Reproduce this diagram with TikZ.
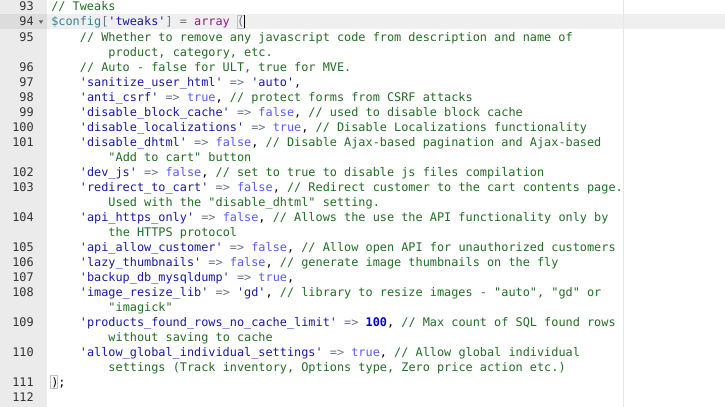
\documentclass[tikz,border=0pt]{standalone}
\usepackage{fontspec}
\setmonofont{DejaVu Sans Mono}
\definecolor{gutterbg}{HTML}{EBEBEB}
\definecolor{gutteract}{HTML}{DCDCDC}
\definecolor{lineact}{HTML}{EFEFEF}
\definecolor{margin}{HTML}{E6E6E6}
\definecolor{numgray}{HTML}{333333}
\definecolor{cmntc}{HTML}{236E24}
\definecolor{qstrc}{HTML}{1A1AA6}
\definecolor{kwdc}{HTML}{585CF6}
\definecolor{operc}{HTML}{687687}
\definecolor{varc}{HTML}{318495}
\definecolor{fnc}{HTML}{8E1F7E}
\definecolor{numc}{HTML}{0000CD}
\newcommand\cmnt[1]{\textcolor{cmntc}{#1}}
\newcommand\qstr[1]{\textcolor{qstrc}{#1}}
\newcommand\kwd[1]{\textcolor{kwdc}{#1}}
\newcommand\oper[1]{\textcolor{operc}{#1}}
\tikzset{
  codeline/.style={anchor=base west, inner sep=0pt, font=\ttfamily\fontsize{8.9}{11}\selectfont},
  lineno/.style={anchor=base east, inner sep=0pt, text=numgray, font=\ttfamily\fontsize{8.9}{11}\selectfont},
  brbox/.style={draw=black!25, line width=0.6pt}
}

\begin{document}
\begin{tikzpicture}[x=0.75pt, y=-0.75pt]
    \useasboundingbox (0,0) rectangle (725,407);
    % editor background
    \fill[white] (0,0) rectangle (725,407);
    \fill[gutterbg] (0,0) rectangle (47,407);
    \fill[lineact] (47,14) rectangle (725,29);
    \fill[gutteract] (0,14) rectangle (47,29);
    \draw[margin, line width=0.75pt] (623,0) -- (623,407);
    % line numbers
    \foreach \n/\r in {93/0, 94/1, 95/2, 96/4, 97/5, 98/6, 99/7, 100/8, 101/9, 102/11,
        103/12, 104/14, 105/16, 106/17, 107/18, 108/19, 109/21, 110/23, 111/25, 112/26}
        \node[lineno] (n\n) at (34,{11+15*\r}) {\n};
    \fill[black!60] (38.8,20.3) -- (43.2,20.3) -- (41,23.8) -- cycle;
    % code
    \node[codeline] (c93) at (51,11) {\cmnt{// Tweaks}};
    \node[codeline] (c94) at (51,26) {\textcolor{varc}{\$config}\oper{[}\qstr{'tweaks'}\oper{]} \oper{=} \textcolor{fnc}{array} \oper{(}};
    \node[codeline] (c95) at (79.6,41) {\cmnt{// Whether to remove any javascript code from description and name of}};
    \node[codeline] (c95w) at (108.2,56) {\cmnt{product, category, etc.}};
    \node[codeline] (c96) at (79.6,71) {\cmnt{// Auto - false for ULT, true for MVE.}};
    \node[codeline] (c97) at (79.6,86) {\qstr{'sanitize\_user\_html'} \oper{=>} \qstr{'auto'},};
    \node[codeline] (c98) at (79.6,101) {\qstr{'anti\_csrf'} \oper{=>} \kwd{true}, \cmnt{// protect forms from CSRF attacks}};
    \node[codeline] (c99) at (79.6,116) {\qstr{'disable\_block\_cache'} \oper{=>} \kwd{false}, \cmnt{// used to disable block cache}};
    \node[codeline] (c100) at (79.6,131) {\qstr{'disable\_localizations'} \oper{=>} \kwd{true}, \cmnt{// Disable Localizations functionality}};
    \node[codeline] (c101) at (79.6,146) {\qstr{'disable\_dhtml'} \oper{=>} \kwd{false}, \cmnt{// Disable Ajax-based pagination and Ajax-based}};
    \node[codeline] (c101w) at (108.2,161) {\cmnt{"Add to cart" button}};
    \node[codeline] (c102) at (79.6,176) {\qstr{'dev\_js'} \oper{=>} \kwd{false}, \cmnt{// set to true to disable js files compilation}};
    \node[codeline] (c103) at (79.6,191) {\qstr{'redirect\_to\_cart'} \oper{=>} \kwd{false}, \cmnt{// Redirect customer to the cart contents page.}};
    \node[codeline] (c103w) at (108.2,206) {\cmnt{Used with the "disable\_dhtml" setting.}};
    \node[codeline] (c104) at (79.6,221) {\qstr{'api\_https\_only'} \oper{=>} \kwd{false}, \cmnt{// Allows the use the API functionality only by}};
    \node[codeline] (c104w) at (108.2,236) {\cmnt{the HTTPS protocol}};
    \node[codeline] (c105) at (79.6,251) {\qstr{'api\_allow\_customer'} \oper{=>} \kwd{false}, \cmnt{// Allow open API for unauthorized customers}};
    \node[codeline] (c106) at (79.6,266) {\qstr{'lazy\_thumbnails'} \oper{=>} \kwd{false}, \cmnt{// generate image thumbnails on the fly}};
    \node[codeline] (c107) at (79.6,281) {\qstr{'backup\_db\_mysqldump'} \oper{=>} \kwd{true},};
    \node[codeline] (c108) at (79.6,296) {\qstr{'image\_resize\_lib'} \oper{=>} \qstr{'gd'}, \cmnt{// library to resize images - "auto", "gd" or}};
    \node[codeline] (c108w) at (108.2,311) {\cmnt{"imagick"}};
    \node[codeline] (c109) at (79.6,326) {\qstr{'products\_found\_rows\_no\_cache\_limit'} \oper{=>} \textcolor{numc}{\textbf{100}}, \cmnt{// Max count of SQL found rows}};
    \node[codeline] (c109w) at (108.2,341) {\cmnt{without saving to cache}};
    \node[codeline] (c110) at (79.6,356) {\qstr{'allow\_global\_individual\_settings'} \oper{=>} \kwd{true}, \cmnt{// Allow global individual}};
    \node[codeline] (c110w) at (108.2,371) {\cmnt{settings (Track inventory, Options type, Zero price action etc.)}};
    \node[codeline] (c111) at (51,386) {);};
    % bracket match and cursor
    \draw[brbox] (c94.east |- 0,15) ++(-7.2,0) rectangle (c94.east |- 0,28);
    \draw[brbox] (50.6,375) rectangle (57.8,388);
    \draw[line width=0.75pt] (c94.east |- 0,15) -- (c94.east |- 0,28);
\end{tikzpicture}
\end{document}
